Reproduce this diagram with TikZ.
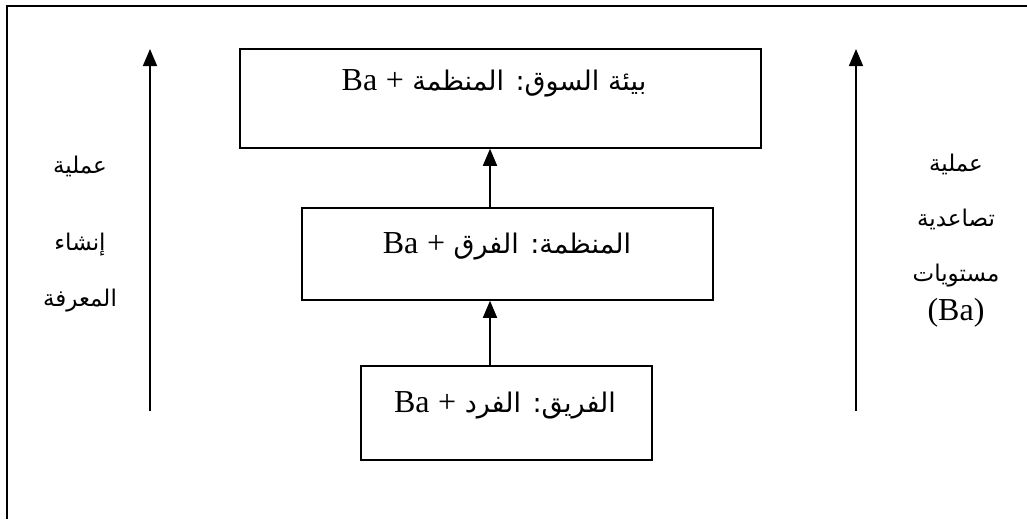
\documentclass[tikz,border=0pt]{standalone}
\usepackage{fontspec}
\setmainfont{Liberation Serif}
\newfontfamily\arabicfont[Script=Arabic]{DejaVu Sans}
\TeXXeTstate=1
\usetikzlibrary{arrows.meta}
% Arabic and Latin sizes used in the labels
\newcommand{\arsize}{\fontsize{23}{27}\selectfont}
\newcommand{\boxarsize}{\fontsize{27}{32}\selectfont}
\newcommand{\latsize}{\fontsize{32}{38}\selectfont}
\newcommand{\ar}[1]{{\arsize\arabicfont\beginR #1\endR}}
\newcommand{\mixline}[1]{{\boxarsize\arabicfont\beginR #1 {\latsize\rmfamily +} \beginL{\latsize\rmfamily Ba}\endL\endR}}
\begin{document}
\begin{tikzpicture}[x=1pt,y=-1pt,
  level/.style={draw,line width=1.5pt,rectangle,inner sep=0pt},
  boxtext/.style={inner sep=0pt,anchor=base},
  sidetext/.style={inner sep=0pt,anchor=base},
  up/.style={line width=1.6pt,-{Triangle[width=14pt,length=17pt]}}]
  \useasboundingbox (0,0) rectangle (1027,519);
  % frame
  \coordinate (fl) at (7,519);
  \coordinate (fc) at (7,6);
  \coordinate (fr) at (1027,6);
  \draw[line width=2.2pt] (fl) -- (fc) -- (fr);
  % the three levels
  \node[level,minimum width=521pt,minimum height=99pt] (b1) at (500.5,98.5) {};
  \node[level,minimum width=411pt,minimum height=92pt] (b2) at (507.5,254) {};
  \node[level,minimum width=291pt,minimum height=94pt] (b3) at (506.5,413) {};
  \node[boxtext] (t1) at (494,90) {\mixline{بيئة السوق: المنظمة}};
  \node[boxtext] (t2) at (507,253) {\mixline{المنظمة: الفرق}};
  \node[boxtext] (t3) at (505,412) {\mixline{الفريق: الفرد}};
  \draw[up] (b3.north -| 490,0) -- (b2.south -| 490,0);
  \draw[up] (b2.north -| 490,0) -- (b1.south -| 490,0);
  % side arrows
  \coordinate (la0) at (150,411);
  \coordinate (la1) at (150,49);
  \coordinate (ra0) at (856,411);
  \coordinate (ra1) at (856,49);
  \draw[up] (la0) -- (la1);
  \draw[up] (ra0) -- (ra1);
  % left caption
  \node[sidetext] (l1) at (80,173) {\ar{عملية}};
  \node[sidetext] (l2) at (80,250) {\ar{إنشاء}};
  \node[sidetext] (l3) at (80,306) {\ar{المعرفة}};
  % right caption
  \node[sidetext] (r1) at (956,171) {\ar{عملية}};
  \node[sidetext] (r2) at (956,226) {\ar{تصاعدية}};
  \node[sidetext] (r3) at (956,281) {\ar{مستويات}};
  \node[sidetext,font=\latsize\rmfamily] (r4) at (956,320) {(Ba)};
\end{tikzpicture}
\end{document}
